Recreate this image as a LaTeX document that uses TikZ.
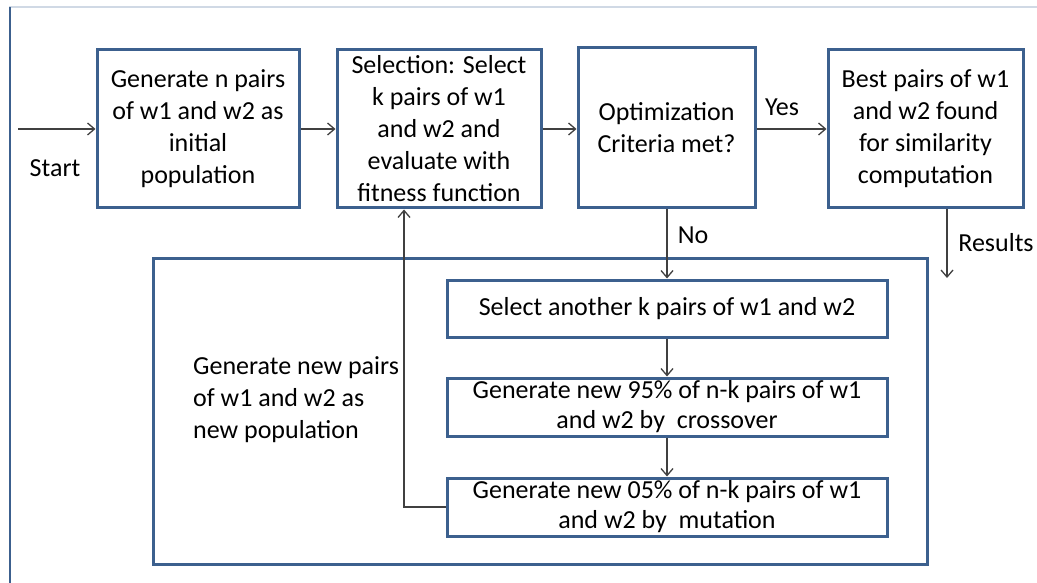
\documentclass[tikz,border=0pt]{standalone}
\usepackage{fontspec}
\setmainfont{Carlito}
\usetikzlibrary{arrows.meta,positioning}
\definecolor{boxblue}{RGB}{60,96,142}
\definecolor{framelight}{RGB}{208,217,229}
\definecolor{linegray}{RGB}{64,64,64}
\begin{document}
\begin{tikzpicture}[x=1pt,y=-1pt,
  txt/.style={font=\fontsize{26}{32}\selectfont, text=black},
  stepbox/.style={draw=boxblue, line width=3pt, fill=white, inner sep=0pt,
    align=center, txt},
  smallbox/.style={stepbox, font=\fontsize{26}{30}\selectfont},
  arr/.style={draw=linegray, line width=1.3pt,
    -{Straight Barb[length=7pt,width=12pt,line width=1.3pt]}},
  lbl/.style={txt, inner sep=0pt}]
\useasboundingbox (0,0) rectangle (1037,583);

% page frame
\draw[framelight, line width=2pt] (9,7.5) -- (1037,7.5);
\draw[boxblue, line width=2.2pt] (10,7) -- (10,583);

% top row of steps
\node[stepbox, minimum width=202pt, minimum height=158pt] (gen) at (198,129)
  {Generate n pairs\\of w1 and w2 as\\initial\\population};
\node[stepbox, minimum width=204pt, minimum height=158pt] (sel) at (439,129)
  {Selection: Select\\k pairs of w1\\and w2 and\\evaluate with\\fitness function};
\node[stepbox, minimum width=177pt, minimum height=160pt] (opt) at (666.5,128)
  {Optimization\\Criteria met?};
\node[stepbox, minimum width=195pt, minimum height=158pt] (best) at (925.5,129)
  {Best pairs of w1\\and w2 found\\for similarity\\computation};

% new population block
\node[draw=boxblue, line width=3pt, minimum width=774pt, minimum height=306pt,
  inner sep=0pt] (newpop) at (540,411) {};
\node[lbl, anchor=west, align=left] (newpoptext) at (193,400)
  {Generate new pairs\\of w1 and w2 as\\new population};
\node[smallbox, minimum width=440pt, minimum height=57pt] (another) at (667,308.5)
  {Select another k pairs of w1 and w2};
\node[smallbox, minimum width=440pt, minimum height=58pt] (cross) at (667,407)
  {Generate new 95\% of n-k pairs of w1\\and w2 by\ \ crossover};
\node[smallbox, minimum width=440pt, minimum height=58pt] (mut) at (667,507)
  {Generate new 05\% of n-k pairs of w1\\and w2 by\ \ mutation};

% free ends of connectors
\coordinate (start) at (18,129);
\coordinate (fb) at (404,507);
\coordinate (res) at (947,278);

% connectors
\draw[arr] (start) -- (gen.west);
\draw[arr] (gen.east) -- (sel.west);
\draw[arr] (sel.east) -- (opt.west |- sel.east);
\draw[arr] (opt.east |- best.west) -- (best.west);
\draw[arr] (another.north |- opt.south) -- (another.north);
\draw[arr] (another.south) -- (cross.north);
\draw[arr] (cross.south) -- (mut.north);
\draw[arr] (mut.west) -- (fb) -- (fb |- sel.south);
\draw[arr] (res |- best.south) -- (res);

% connector labels
\node[lbl] (startlbl) at (55,168) {Start};
\node[lbl] (yeslbl) at (782,107) {Yes};
\node[lbl] (nolbl) at (693,235) {No};
\node[lbl] (reslbl) at (996,243) {Results};
\end{tikzpicture}
\end{document}
